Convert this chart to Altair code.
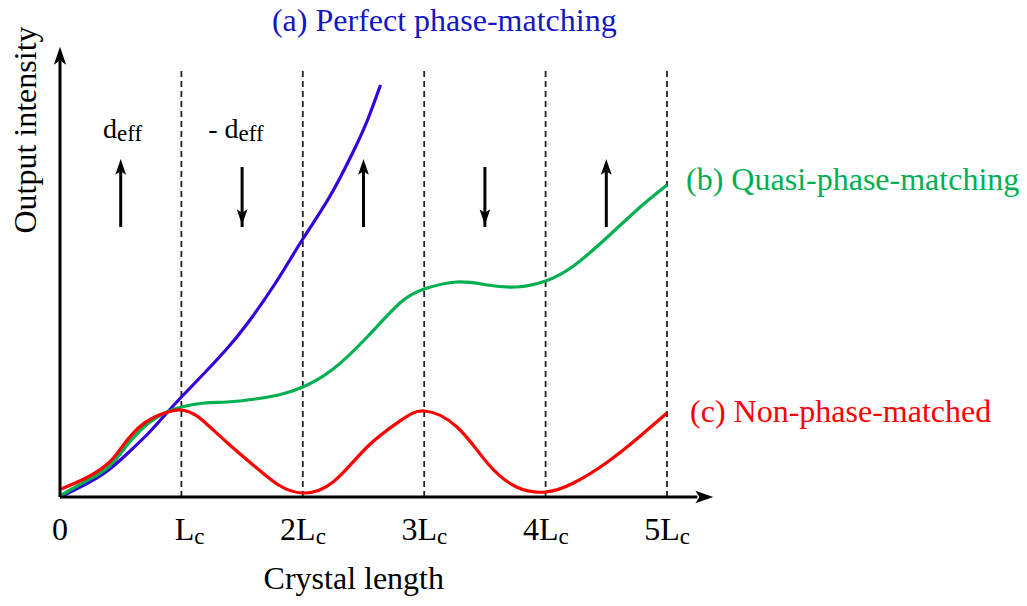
import altair as alt
import pandas as pd

# ---- data (x in units of Lc, y = output intensity, arbitrary units) ----
red_x = [0.01, 0.23, 0.40, 0.51, 0.645, 0.78, 0.89, 1.00, 1.10, 1.19, 1.38, 1.61, 1.80, 2.00,
         2.25, 2.53, 2.80, 3.00, 3.27, 3.52, 3.76, 4.00, 4.23, 4.51, 4.78, 5.00]
red_y = [0.08, 0.20, 0.34, 0.50, 0.69, 0.80, 0.85, 0.87, 0.83, 0.75, 0.54, 0.30, 0.12, 0.04,
         0.15, 0.50, 0.76, 0.86, 0.70, 0.34, 0.10, 0.05, 0.14, 0.35, 0.61, 0.84]

green_x = [0.00, 0.23, 0.40, 0.56, 0.72, 0.86, 1.00, 1.19, 1.38, 1.61, 1.80, 2.00,
           2.25, 2.53, 2.80, 3.00, 3.27, 3.52, 3.76, 4.00, 4.23, 4.51, 4.78, 5.00]
green_y = [0.01, 0.17, 0.30, 0.53, 0.73, 0.84, 0.90, 0.94, 0.95, 0.98, 1.02, 1.10,
           1.28, 1.60, 1.94, 2.08, 2.15, 2.12, 2.10, 2.16, 2.31, 2.60, 2.90, 3.12]

blue_x = [0.00, 0.23, 0.40, 0.56, 0.73, 0.865, 1.00, 1.19, 1.38, 1.54, 1.77, 2.00,
          2.22, 2.41, 2.53, 2.64]
blue_y = [0.00, 0.14, 0.27, 0.44, 0.64, 0.82, 1.00, 1.24, 1.49, 1.73, 2.13, 2.58,
          3.00, 3.44, 3.76, 4.12]

boundaries = [1, 2, 3, 4, 5]
boundary_top = 4.29
tick_main = ["0", "L", "2L", "3L", "4L", "5L"]
tick_pos = [0, 1, 2, 3, 4, 5]
domain_dirs = ["up", "down", "up", "down", "up"]
domain_mid = [0.5, 1.5, 2.5, 3.5, 4.5]

W, H = 1027, 606
X_DOM = [-0.4942, 7.9654]
Y_DOM = [-1.09, 4.97]
FONT = "Liberation Serif"

xs = alt.Scale(domain=X_DOM, nice=False, zero=False)
ys = alt.Scale(domain=Y_DOM, nice=False, zero=False)
X = lambda f="x": alt.X(f"{f}:Q", scale=xs, axis=None)
Y = lambda f="y": alt.Y(f"{f}:Q", scale=ys, axis=None)

curves = pd.concat([
    pd.DataFrame({"x": blue_x, "y": blue_y, "s": "a"}),
    pd.DataFrame({"x": green_x, "y": green_y, "s": "b"}),
    pd.DataFrame({"x": red_x, "y": red_y, "s": "c"}),
])

# dashed boundaries
dash_df = pd.DataFrame({"x": boundaries, "y": 0.0, "y2": boundary_top})
dashes = alt.Chart(dash_df).mark_rule(color="#222222", strokeWidth=1.8, strokeDash=[6, 4]).encode(
    x=X(), y=Y(), y2="y2:Q")

# axes
axes_df = pd.DataFrame({"x": [0.0, 0.0], "y": [0.0, 0.0], "x2": [5.25, 0.0], "y2": [0.0, 4.36]})
axes = alt.Chart(axes_df).mark_rule(color="black", strokeWidth=3).encode(
    x=X(), y=Y(), x2="x2:Q", y2="y2:Q")

ARROW = "M0,-1L0.6,0.75L0,0.35L-0.6,0.75Z"
yhead = alt.Chart(pd.DataFrame({"x": [0.0], "y": [4.40]})).mark_point(
    shape=ARROW, filled=True, color="black", size=420, opacity=1).encode(x=X(), y=Y())
xhead = alt.Chart(pd.DataFrame({"x": [5.297], "y": [0.0]})).mark_point(
    shape=ARROW, filled=True, color="black", size=420, opacity=1, angle=90).encode(x=X(), y=Y())

lines = alt.Chart(curves).mark_line(strokeWidth=3.2, interpolate="natural").encode(
    x=X(), y=Y(), detail="s:N",
    color=alt.Color("s:N", scale=alt.Scale(domain=["a", "b", "c"],
                                           range=["#3300dd", "#00b050", "#ff0000"]), legend=None))

# domain arrows (d_eff orientation)
shaft_df = pd.DataFrame({"x": domain_mid, "y": 2.70, "y2": 3.30})
shafts = alt.Chart(shaft_df).mark_rule(color="black", strokeWidth=3).encode(x=X(), y=Y(), y2="y2:Q")
head_df = pd.DataFrame({"x": domain_mid,
                        "y": [3.29 if d == "up" else 2.81 for d in domain_dirs],
                        "a": [0 if d == "up" else 180 for d in domain_dirs]})
heads = alt.Chart(head_df).mark_point(shape=ARROW, filled=True, color="black", size=320, opacity=1).encode(
    x=X(), y=Y(), angle=alt.Angle("a:Q", scale=None))

# tick labels
tl_df = pd.DataFrame({"x": [p + 0.04 for p in tick_pos], "y": -0.43, "t": tick_main})
tl_df.loc[0, "x"] = 0.0
ticks_main = alt.Chart(tl_df).mark_text(font=FONT, fontSize=32, align="right", baseline="alphabetic",
                                        dx=8).encode(x=X(), y=Y(), text="t:N")
sub_df = pd.DataFrame({"x": [p + 0.04 for p in tick_pos[1:]], "y": -0.47, "t": "c"})
ticks_sub = alt.Chart(sub_df).mark_text(font=FONT, fontSize=23, align="left", baseline="alphabetic",
                                        dx=8).encode(x=X(), y=Y(), text="t:N")

# axis titles
xt = alt.Chart(pd.DataFrame({"x": [2.42], "y": [-0.92], "t": ["Crystal length"]})).mark_text(
    font=FONT, fontSize=32, align="center", baseline="alphabetic").encode(x=X(), y=Y(), text="t:N")
yt = alt.Chart(pd.DataFrame({"x": [-0.2], "y": [3.67], "t": ["Output intensity"]})).mark_text(
    font=FONT, fontSize=32, align="center", baseline="alphabetic", angle=270).encode(x=X(), y=Y(), text="t:N")

# d_eff labels
d_df = pd.DataFrame({"x": [0.5 - 0.03, 1.5 - 0.03], "y": [3.59, 3.59], "t": ["d", "- d"]})
d_main = alt.Chart(d_df).mark_text(font=FONT, fontSize=28, align="right", baseline="alphabetic").encode(
    x=X(), y=Y(), text="t:N")
e_df = pd.DataFrame({"x": [0.5 - 0.03, 1.5 - 0.03], "y": [3.56, 3.56], "t": ["eff", "eff"]})
e_sub = alt.Chart(e_df).mark_text(font=FONT, fontSize=23, align="left", baseline="alphabetic").encode(
    x=X(), y=Y(), text="t:N")

# series labels
lab_df = pd.DataFrame({
    "x": [1.746, 5.157, 5.19],
    "y": [4.66, 3.07, 0.75],
    "t": ["(a)  Perfect phase-matching", "(b) Quasi-phase-matching", "(c) Non-phase-matched"],
    "c": ["a", "b", "c"]})
labels = alt.Chart(lab_df).mark_text(font=FONT, fontSize=32, align="left", baseline="alphabetic").encode(
    x=X(), y=Y(), text="t:N",
    color=alt.Color("c:N", scale=alt.Scale(domain=["a", "b", "c"],
                                           range=["#1515c8", "#00b050", "#ff0000"]), legend=None))

chart = alt.layer(dashes, lines, axes, yhead, xhead, shafts, heads, ticks_main, ticks_sub,
                  xt, yt, d_main, e_sub, labels).resolve_scale(color="independent").properties(
    width=W, height=H, padding=0, autosize=alt.AutoSizeParams(type="none"),
    background="white").configure_view(stroke=None)

chart.save("out.html", embed_options={"renderer": "svg", "actions": False})
